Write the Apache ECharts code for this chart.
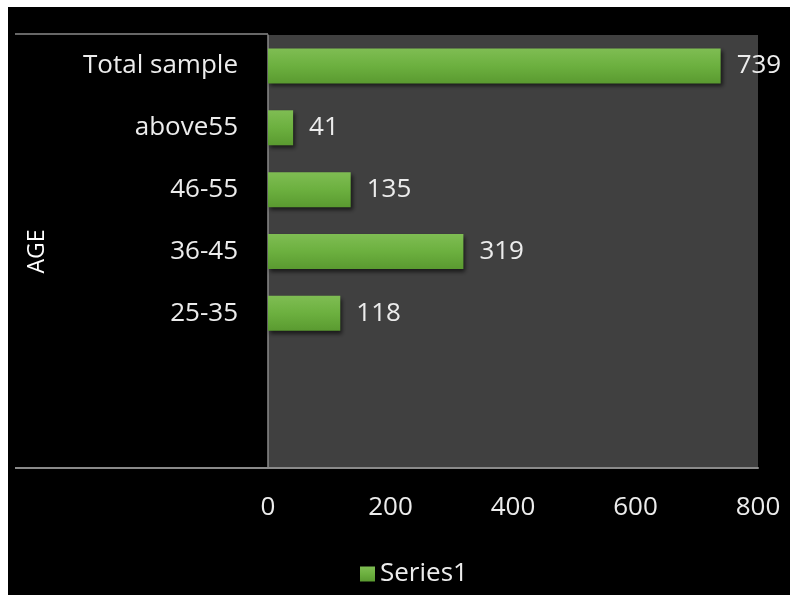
<!DOCTYPE html>
<html>
<head>
<meta charset="utf-8">
<script src="https://cdn.jsdelivr.net/npm/echarts@6/dist/echarts.min.js"></script>
<style>
  html, body { margin: 0; padding: 0; background: #ffffff; }
  #chart { position: absolute; left: 8px; top: 7px; width: 782px; height: 588px; background: #000000; }
</style>
</head>
<body>
<div id="chart"></div>
<script>
// Age groups, listed top to bottom as they appear on the axis
const categories = ['Total sample', 'above55', '46-55', '36-45', '25-35'];
const values = [739, 41, 135, 319, 118];
const seriesName = 'Series1';
const axisTitle = 'AGE';
const xTicks = { min: 0, max: 800, interval: 200 };

// two blank slots below the last group
const yCats = categories.concat(['', '']);
const yVals = values.concat(['-', '-']);

const FONT = 'Open Sans';
const TEXT = '#ececec';
const LINE = '#8a8a8a';

const chart = echarts.init(document.getElementById('chart'), null, { renderer: 'canvas' });
chart.setOption({
  backgroundColor: '#000000',
  textStyle: { fontFamily: FONT },
  grid: {
    left: 260, right: 32, top: 28, bottom: 127,
    show: true, backgroundColor: '#404040', borderWidth: 0
  },
  legend: {
    data: [seriesName],
    left: 347, top: 549,
    icon: 'rect', itemWidth: 15, itemHeight: 15, itemGap: 10,
    textStyle: { color: TEXT, fontSize: 26, fontFamily: FONT }
  },
  xAxis: {
    type: 'value',
    min: xTicks.min, max: xTicks.max, interval: xTicks.interval,
    axisLine: { show: true, lineStyle: { color: LINE, width: 2 } },
    axisTick: { show: false },
    splitLine: { show: false },
    axisLabel: { color: TEXT, fontSize: 26, margin: 27, fontFamily: FONT }
  },
  yAxis: {
    type: 'category',
    inverse: true,
    data: yCats,
    name: axisTitle,
    nameLocation: 'middle',
    nameRotate: 90,
    nameGap: 219,
    nameTextStyle: { color: '#ffffff', fontSize: 23, fontFamily: FONT },
    axisLine: { show: true, lineStyle: { color: LINE, width: 1.5 } },
    axisTick: { show: false },
    axisLabel: { color: TEXT, fontSize: 26, margin: 30, fontFamily: FONT }
  },
  graphic: [
    { type: 'line', shape: { x1: 7, y1: 27, x2: 260, y2: 27 }, style: { stroke: LINE, lineWidth: 1.5 } },
    { type: 'line', shape: { x1: 7, y1: 461, x2: 260, y2: 461 }, style: { stroke: LINE, lineWidth: 2 } }
  ],
  series: [{
    name: seriesName,
    type: 'bar',
    data: yVals,
    barWidth: 35,
    itemStyle: {
      color: new echarts.graphic.LinearGradient(0, 0, 0, 1, [
        { offset: 0, color: '#7fbd53' },
        { offset: 0.5, color: '#6cb03f' },
        { offset: 1, color: '#5a9a30' }
      ]),
      shadowColor: 'rgba(0,0,0,0.6)',
      shadowBlur: 4,
      shadowOffsetX: 2,
      shadowOffsetY: 3
    },
    label: {
      show: true,
      position: 'right',
      distance: 16,
      color: TEXT,
      fontSize: 26,
      fontFamily: FONT
    }
  }]
});
</script>
</body>
</html>
